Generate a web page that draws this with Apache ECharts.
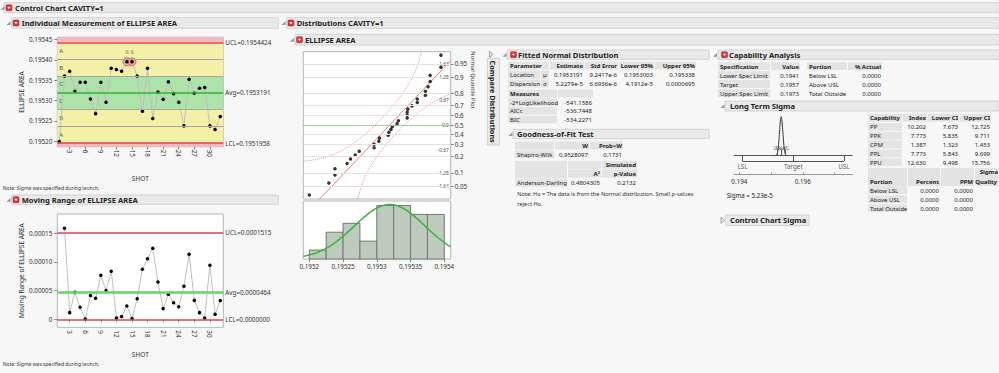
<!DOCTYPE html>
<html><head><meta charset="utf-8">
<script src="https://cdn.jsdelivr.net/npm/echarts@6/dist/echarts.min.js"></script>
<style>html,body{margin:0;padding:0;background:#f7f7f7;}#c{width:999px;height:373px;}</style>
</head><body><div id="c"></div>
<script>
// ---------------- DATA ----------------
const shots = [1,2,3,4,5,6,7,8,9,10,11,12,13,14,15,16,17,18,19,20,21,22,23,24,25,26,27,28,29,30,31,32];
const ellipseArea = [0.195200,0.195360,0.195372,0.195323,0.195345,0.195345,0.195304,0.195268,
  0.195345,0.195296,0.195379,0.195376,0.195372,0.195395,0.195395,0.195360,
  0.195274,0.195379,0.195256,0.195321,0.195303,0.195346,0.195317,0.195296,
  0.195238,0.195352,0.195318,0.195330,0.195332,0.195238,0.195229,0.195261];
const movingRange = [null,0.0001590,0.0000116,0.0000470,0.0000210,0.0000006,0.0000413,0.0000366,
  0.0000767,0.0000500,0.0000837,0.0000023,0.0000047,0.0000233,0.0000012,0.0000360,
  0.0000872,0.0001058,0.0001238,0.0000651,0.0000186,0.0000436,0.0000290,0.0000220,
  0.0000576,0.0001134,0.0000330,0.0000116,0.0000023,0.0000942,0.0000087,0.0000326];
const flaggedShots = [14,15];
const flaggedTests = ['6','6'];
const indivLimits = [0.1951958, 0.1953191, 0.1954424];   // LCL, Avg, UCL
const mrLimits = [0.0000000, 0.0000464, 0.0001515];      // LCL, Avg, UCL
const indivTicks = [0.19520,0.19525,0.19530,0.19535,0.19540,0.19545];
const mrTicks = [0,0.00005,0.00010,0.00015];
const shotTicks = [3,6,9,12,15,18,21,24,27,30];
const histBinEdges = [0.195200,0.195225,0.195250,0.195275,0.195300,0.195325,0.195350,0.195375,0.195400];
const histCounts = [1,3,4,2,6,6,5,5];
const histTicks = [0.1952,0.19525,0.1953,0.19535,0.1954];
const quantileProbs = [0.05,0.1,0.2,0.3,0.4,0.5,0.6,0.7,0.8,0.9,0.95];
const zLabelProbs = [0.05,0.1,0.25,0.5,0.75,0.9,0.95];
const fitMean = 0.1953191;
const fitSigma = 0.000052279;
const lillieforsD = 0.16;
const specLimits = [0.1941, 0.1957, 0.1973];  // LSL, Target, USL
const capTicks = [0.194,0.195,0.196,0.197];
const capLabelTicks = [0.194,0.196];

const fitParamHeader = ['Parameter','','Estimate','Std Error','Lower 95%','Upper 95%'];
const fitParamRows = [['Location','\u03bc','0.1953191','9.2417e-6','0.1953003','0.195338'],
                      ['Dispersion','\u03c3','5.2279e-5','6.6936e-6','4.1912e-5','0.0000695']];
const fitMeasureRows = [['-2*LogLikelihood','-541.1586'],['AICc','-536.7448'],['BIC','-534.2271']];
const swRow = ['Shapiro-Wilk','0.9528097','0.1731'];
const adRow = ['Anderson-Darling','0.4804305','0.2132'];
const specHeader = ['Specification','Value','Portion','% Actual'];
const specRows = [['Lower Spec Limit','0.1941','Below LSL','0.0000'],
                  ['Target','0.1957','Above USL','0.0000'],
                  ['Upper Spec Limit','0.1973','Total Outside','0.0000']];
const capIndexHeader = ['Capability','Index','Lower CI','Upper CI'];
const capIndexRows = [['PP','10.202','7.673','12.725'],['PPK','7.773','5.835','9.711'],
  ['CPM','1.387','1.323','1.453'],['PPL','7.773','5.843','9.699'],['PPU','12.630','9.498','15.756']];
const portionHeader = ['Portion','Percent','PPM','Quality'];
const portionRows = [['Below LSL','0.0000','0.0000'],['Above USL','0.0000','0.0000'],['Total Outside','0.0000','0.0000']];
const sigmaText = 'Sigma = 5.23e-5';

// ---------------- HELPERS ----------------
const FF = '"Noto Sans","DejaVu Sans",sans-serif';
function qnorm(p){
  const a=[-3.969683028665376e+01,2.209460984245205e+02,-2.759285104469687e+02,1.383577518672690e+02,-3.066479806614716e+01,2.506628277459239e+00];
  const b=[-5.447609879822406e+01,1.615858368580409e+02,-1.556989798598866e+02,6.680131188771972e+01,-1.328068155288572e+01];
  const c=[-7.784894002430293e-03,-3.223964580411365e-01,-2.400758277161838e+00,-2.549732539343734e+00,4.374664141464968e+00,2.938163982698783e+00];
  const d=[7.784695709041462e-03,3.224671290700398e-01,2.445134137142996e+00,3.754408661907416e+00];
  const pl=0.02425; let q,r;
  if(p<pl){q=Math.sqrt(-2*Math.log(p));return (((((c[0]*q+c[1])*q+c[2])*q+c[3])*q+c[4])*q+c[5])/((((d[0]*q+d[1])*q+d[2])*q+d[3])*q+1);}
  if(p<=1-pl){q=p-0.5;r=q*q;return (((((a[0]*r+a[1])*r+a[2])*r+a[3])*r+a[4])*r+a[5])*q/(((((b[0]*r+b[1])*r+b[2])*r+b[3])*r+b[4])*r+1);}
  q=Math.sqrt(-2*Math.log(1-p));return -(((((c[0]*q+c[1])*q+c[2])*q+c[3])*q+c[4])*q+c[5])/((((d[0]*q+d[1])*q+d[2])*q+d[3])*q+1);
}
function pnorm(z){
  const t=1/(1+0.2316419*Math.abs(z)); const dd=0.3989423*Math.exp(-z*z/2);
  const p=dd*t*(0.3193815+t*(-0.3565638+t*(1.781478+t*(-1.821256+t*1.330274))));
  return z>0?1-p:p;
}
const G = [];
function txt(x,y,s,o){o=o||{};
  G.push({type:'text',x:x,y:y,silent:true,z:50,rotation:o.rot||0,
    style:{text:s,font:(o.bold?'bold ':'')+(o.size||6)+'px '+FF,fill:o.color||'#222',
    textAlign:o.align||'left',textVerticalAlign:'middle',verticalAlign:'middle'}});
}
function rect(x,y,w,h,fill,stroke){G.push({type:'rect',silent:true,z:40,shape:{x:x,y:y,width:w,height:h},
  style:{fill:fill,stroke:stroke||null,lineWidth:1}});}
function openTri(x,y){G.push({type:'polygon',silent:true,z:45,shape:{points:[[x+4,y-2],[x+4,y+2],[x,y+2]]},style:{fill:'#9a9a9a'}});}
function closedTri(x,y){G.push({type:'polygon',silent:true,z:45,shape:{points:[[x,y-3],[x+3.5,y],[x,y+3]]},style:{fill:'none',stroke:'#888',lineWidth:0.8}});}
function redIcon(x,y){
  G.push({type:'rect',silent:true,z:45,shape:{x:x,y:y-3,width:6,height:6,r:1},style:{fill:'#d8353a',stroke:'#b02020',lineWidth:0.5}});
  G.push({type:'polygon',silent:true,z:46,shape:{points:[[x+1.3,y-1],[x+4.7,y-1],[x+3,y+1.3]]},style:{fill:'#fff'}});
}
function bar(x1,y1,x2,y2,label,triX,iconX,textX,closed){
  rect(x1,y1,x2-x1,y2-y1,'#e9e9e9','#d2d2d2');
  const cy=(y1+y2)/2;
  if(closed) closedTri(triX,cy); else openTri(triX,cy);
  if(iconX!=null) redIcon(iconX,cy);
  txt(textX,cy,label,{bold:true,size:7.6});
}
function table(cols,rows){
  rows.forEach(r=>{
    (r.gray||[]).forEach(ci=>{const c=cols[ci];rect(c[0],r.y-r.h/2,c[1]-c[0]-1,r.h-1,'#e3e3e3');});
    r.cells.forEach((s,ci)=>{ if(!s) return; const c=cols[ci];
      const al=c[2]==='r'?'right':'left'; const x=al==='right'?c[1]-2:c[0]+2;
      txt(x,r.y,s,{bold:r.bold,align:al});});
  });
}

// ---------------- GRAPHICS (chrome & tables) ----------------
bar(4,2.7,999,12.7,'Control Chart CAVITY=1',0.5,6,15);
bar(11.7,17.7,278.3,28.3,'Individual Measurement of ELLIPSE AREA',6.5,13,21.7);
bar(286.7,17.7,999,28.3,'Distributions CAVITY=1',281.5,288,296.7);
bar(295,34.3,999,45,'ELLIPSE AREA',290,296.5,305);
bar(11.7,195,278.3,204.3,'Moving Range of ELLIPSE AREA',6.5,13,21.7);
bar(507,50,709,59.3,'Fitted Normal Distribution',502.5,510.5,518);
bar(718,50,999,59.3,'Capability Analysis',713,721.5,729);
bar(513,129.3,709,138.7,'Goodness-of-Fit Test',508.5,null,517);
bar(725,101,999,111,'Long Term Sigma',720.5,null,730);
bar(725.7,215,809,225.7,'Control Chart Sigma',721,null,730,true);

txt(2.7,187.7,'Note: Sigma was specified during launch.',{size:5,color:'#333'});
txt(2.7,364,'Note: Sigma was specified during launch.',{size:5,color:'#333'});

// Compare Distributions tab
rect(487.3,58.3,12,86.7,'#ececec','#cfcfcf');
closedTri(489.5,54.3);
txt(493.3,101.7,'Compare Distributions',{bold:true,size:7.3,align:'center',rot:-Math.PI/2});
txt(473.3,80,'Normal Quantile Plot',{size:5.8,align:'center',rot:-Math.PI/2,color:'#333'});

// Fitted Normal tables
const cFit=[[508,541,'l'],[541,550,'l'],[550,585,'r'],[585,619,'r'],[619,655,'r'],[655,697,'r']];
table(cFit,[{y:66.2,h:8.8,cells:fitParamHeader,bold:true,gray:[0,1,2,3,4,5]},
  {y:75.2,h:8.8,cells:fitParamRows[0],gray:[0,1]},
  {y:84,h:8.8,cells:fitParamRows[1],gray:[0,1]}]);
const cMeas=[[508,558,'l'],[558,594,'r']];
table(cMeas,[{y:94,h:8.8,cells:['Measures',''],bold:true,gray:[0,1]}].concat(
  fitMeasureRows.map((r,i)=>({y:102.7+i*8.7,h:8.8,cells:r,gray:[0]}))));
const cSW=[[515,555,'l'],[555,590,'r'],[590,624,'r']];
table(cSW,[{y:146,h:8.8,cells:['','W','Prob<W'],bold:true,gray:[0,1,2]},
  {y:154.7,h:8.8,cells:swRow,gray:[0]}]);
const cAD=[[515,568,'l'],[568,602,'r'],[602,638,'r']];
rect(515,161,52,17.4,'#e3e3e3');
table(cAD,[{y:165.3,h:8.8,cells:['','','Simulated'],bold:true,gray:[1,2]},
  {y:174,h:8.8,cells:['','A\u00b2','p-Value'],bold:true,gray:[1,2]},
  {y:183.3,h:8.8,cells:adRow,gray:[0]}]);
txt(517.3,194.3,'Note: Ho = The data is from the Normal distribution. Small p-values',{size:5.6,color:'#333'});
txt(517.3,203.7,'reject Ho.',{size:5.6,color:'#333'});

// Capability tables
const cSpec=[[718,771,'l'],[771,801,'r'],[807,848,'l'],[848,883,'r']];
table(cSpec,[{y:66.7,h:8.8,cells:specHeader,bold:true,gray:[0,1,2,3]}].concat(
  specRows.map((r,i)=>({y:75.5+i*9,h:8.8,cells:r,gray:[0]}))));
const cCap=[[868,903,'l'],[903,928,'r'],[928,960,'r'],[960,992,'r']];
table(cCap,[{y:118.3,h:8.8,cells:capIndexHeader,bold:true,gray:[0,1,2,3]}].concat(
  capIndexRows.map((r,i)=>({y:127.3+i*8.85,h:8.8,cells:r,gray:[0]}))));
const cPor=[[868,908,'l'],[908,941,'r'],[941,975,'r'],[975,999,'r']];
cPor.forEach(c=>rect(c[0],168,c[1]-c[0]-1,18,'#e3e3e3'));
txt(998,172.3,'Sigma',{bold:true,align:'right'});
table(cPor,[{y:181.7,h:8.8,cells:portionHeader,bold:true}].concat(
  portionRows.map((r,i)=>({y:190.7+i*9,h:8.8,cells:r,gray:[0]}))));
txt(726.7,195,sigmaText,{size:6.2,color:'#222'});

// ---------------- CHART ----------------
const n = ellipseArea.length;
const [LCL,AVG,UCL] = indivLimits;
const s1 = (UCL-AVG)/3;
const iyMin=0.195187, iyMax=0.195455;
const xMin=0.615, xMax=32.58;
const qxMin=0.19519111, qxMax=0.19540948;
const qyMin=-1.981, qyMax=1.968;
const cxMin=0.19383, cxMax=0.197575;

const indivData = shots.map((s,i)=>[s,ellipseArea[i]]);
const mrData = shots.map((s,i)=>movingRange[i]==null?null:[s,movingRange[i]]).filter(d=>d);
const flagData = flaggedShots.map((s,i)=>({value:[s,ellipseArea[shots.indexOf(s)]],label:{formatter:flaggedTests[i]}}));

const sorted = ellipseArea.slice().sort((a,b)=>a-b);
const qqData = sorted.map((v,i)=>[v,qnorm((i+1)/(n+1))]);
const probZ = quantileProbs.map(qnorm);
const zLab = zLabelProbs.map(qnorm);
const refLine = [[qxMin,(qxMin-fitMean)/fitSigma],[qxMax,(qxMax-fitMean)/fitSigma]];
const upBand=[], loBand=[];
for(let k=0;k<=240;k++){const x=qxMin+(qxMax-qxMin)*k/240;const F=pnorm((x-fitMean)/fitSigma);
  upBand.push(F+lillieforsD<0.9999?[x,qnorm(F+lillieforsD)]:[x,null]);
  loBand.push(F-lillieforsD>0.0001?[x,qnorm(F-lillieforsD)]:[x,null]);}
const binW = histBinEdges[1]-histBinEdges[0];
const histData = histCounts.map((c,i)=>[histBinEdges[i],histBinEdges[i+1],c]);
const curve=[];
for(let k=0;k<=160;k++){const x=qxMin+(qxMax-qxMin)*k/160;const z=(x-fitMean)/fitSigma;
  curve.push([x,n*binW*Math.exp(-z*z/2)/(fitSigma*Math.sqrt(2*Math.PI))]);}
const capBase=18.6, capLow=13.3, capPeak=39;
const capCurve=[];
for(let k=-40;k<=40;k++){const z=k/10;capCurve.push([fitMean+z*fitSigma,capBase+capPeak*Math.exp(-z*z/2)]);}

const LS = 6.3;
const lblStyle={fontSize:LS,color:'#333',fontFamily:FF};
function markRow(y,label,color,width){return {yAxis:y,lineStyle:{color:color,width:width,type:'solid'},
  label:{show:!!label,formatter:label||'',position:'end',distance:2,fontSize:LS,color:'#333',fontFamily:FF}};}
function zone(y0,y1,color,letter){return [{yAxis:y0,itemStyle:{color:color},
  label:{show:!!letter,formatter:letter||'',position:'insideLeft',distance:2,fontSize:6,color:'#555',fontFamily:FF}},{yAxis:y1}];}
const yellow='#f4f0a7', green='#ade2a8', pink='#f6b7be';

const option = {
  animation:false,
  textStyle:{fontFamily:FF},
  grid:[
    {left:57.3,top:37.3,width:166,height:109.4,show:true,backgroundColor:'#fff',borderColor:'#b5b5b5',borderWidth:1,outerBoundsMode:'none'},
    {left:57.3,top:214,width:166,height:113.3,show:true,backgroundColor:'#fff',borderColor:'#b5b5b5',borderWidth:1,outerBoundsMode:'none'},
    {left:303.3,top:51.7,width:147.4,height:147.3,show:true,backgroundColor:'#fff',borderColor:'#b5b5b5',borderWidth:1,outerBoundsMode:'none'},
    {left:303.3,top:201,width:147.4,height:58,show:true,backgroundColor:'#fff',borderColor:'#b5b5b5',borderWidth:1,outerBoundsMode:'none'},
    {left:734,top:110,width:118.7,height:64.3,show:false,outerBoundsMode:'none'}
  ],
  xAxis:[
    {gridIndex:0,type:'value',min:xMin,max:xMax,axisLine:{show:false},splitLine:{show:false},
     axisTick:{customValues:shotTicks,length:3,lineStyle:{color:'#888'}},
     axisLabel:{customValues:shotTicks,rotate:-90,margin:3,...lblStyle},
     name:'SHOT',nameLocation:'middle',nameGap:28,nameTextStyle:{fontSize:6.5,color:'#333'}},
    {gridIndex:1,type:'value',min:xMin,max:xMax,axisLine:{show:false},splitLine:{show:false},
     axisTick:{customValues:shotTicks,length:3,lineStyle:{color:'#888'}},
     axisLabel:{customValues:shotTicks,rotate:-90,margin:3,...lblStyle},
     name:'SHOT',nameLocation:'middle',nameGap:24,nameTextStyle:{fontSize:6.5,color:'#333'}},
    {gridIndex:2,type:'value',min:qxMin,max:qxMax,show:false},
    {gridIndex:3,type:'value',min:qxMin,max:qxMax,axisLine:{show:false},splitLine:{show:false},
     axisTick:{customValues:histTicks,length:3,lineStyle:{color:'#888'}},
     axisLabel:{customValues:histTicks,margin:4,formatter:v=>String(+v.toFixed(5)),...lblStyle}},
    {gridIndex:4,type:'value',min:cxMin,max:cxMax,splitLine:{show:false},
     axisLine:{show:true,lineStyle:{color:'#999'}},
     axisTick:{customValues:capTicks,length:2,inside:true,lineStyle:{color:'#999'}},
     axisLabel:{customValues:capLabelTicks,margin:4,formatter:v=>v.toFixed(3),...lblStyle}}
  ],
  yAxis:[
    {gridIndex:0,type:'value',min:iyMin,max:iyMax,axisLine:{show:false},splitLine:{show:false},
     axisTick:{customValues:indivTicks,length:3,lineStyle:{color:'#888'}},
     axisLabel:{customValues:indivTicks,margin:5,formatter:v=>v.toFixed(5),...lblStyle},
     name:'ELLIPSE AREA',nameLocation:'middle',nameGap:31,nameTextStyle:{fontSize:6.5,color:'#333'}},
    {gridIndex:1,type:'value',min:-0.000014,max:0.0001837,axisLine:{show:false},splitLine:{show:false},
     axisTick:{customValues:mrTicks,length:3,lineStyle:{color:'#888'}},
     axisLabel:{customValues:mrTicks,margin:5,formatter:v=>v===0?'0':v.toFixed(5),...lblStyle},
     name:'Moving Range of ELLIPSE AREA',nameLocation:'middle',nameGap:32,nameTextStyle:{fontSize:6.5,color:'#333'}},
    {gridIndex:2,type:'value',position:'right',min:qyMin,max:qyMax,axisLine:{show:false},splitLine:{show:false},
     axisTick:{customValues:probZ,length:3,lineStyle:{color:'#888'}},
     axisLabel:{customValues:probZ,margin:4,formatter:v=>{let best=0;probZ.forEach((z,i)=>{if(Math.abs(z-v)<Math.abs(probZ[best]-v))best=i;});return String(quantileProbs[best]);},...lblStyle}},
    {gridIndex:2,type:'value',position:'right',min:qyMin,max:qyMax,axisLine:{show:false},splitLine:{show:false},
     axisTick:{show:false},
     axisLabel:{customValues:zLab,inside:true,margin:2,fontSize:4.8,color:'#444',fontFamily:FF,
       formatter:v=>Math.abs(v)<1e-9?'0.0':v.toFixed(2)}},
    {gridIndex:3,type:'value',min:0,max:6.5,show:false},
    {gridIndex:4,type:'value',min:0,max:64.3,show:false}
  ],
  series:[
    // individual chart zones
    {type:'line',xAxisIndex:0,yAxisIndex:0,data:[],z:1,silent:true,
     markArea:{silent:true,data:[
       zone(iyMin,LCL,pink),zone(LCL,AVG-2*s1,yellow,'A'),zone(AVG-2*s1,AVG-s1,yellow,'B'),zone(AVG-s1,AVG,green,'C'),
       zone(AVG,AVG+s1,green,'C'),zone(AVG+s1,AVG+2*s1,yellow,'B'),zone(AVG+2*s1,UCL,yellow,'A'),zone(UCL,iyMax,pink)]}},
    {type:'line',xAxisIndex:0,yAxisIndex:0,data:[],z:2,silent:true,
     markLine:{silent:true,precision:10,symbol:['none','none'],data:[
       markRow(AVG-2*s1,null,'#a6a6a6',1),markRow(AVG-s1,null,'#a6a6a6',1),markRow(AVG+s1,null,'#a6a6a6',1),markRow(AVG+2*s1,null,'#a6a6a6',1),
       markRow(UCL,'UCL='+UCL.toFixed(7),'#e8404f',1.5),markRow(AVG,'Avg='+AVG.toFixed(7),'#2eb52e',1.5),markRow(LCL,'LCL='+LCL.toFixed(7),'#e8404f',1.5)]}},
    {type:'scatter',xAxisIndex:0,yAxisIndex:0,data:flagData,z:3,symbolSize:8,silent:true,
     itemStyle:{color:'#f39a9f',borderColor:'#e0404a',borderWidth:1},
     label:{show:true,position:[3,-8],fontSize:6,color:'#555',fontFamily:FF}},
    {type:'line',xAxisIndex:0,yAxisIndex:0,data:indivData,z:4,silent:true,symbol:'circle',symbolSize:3.5,
     lineStyle:{color:'#bfbfbf',width:1},itemStyle:{color:'#000'}},
    // moving range
    {type:'line',xAxisIndex:1,yAxisIndex:1,data:[],z:2,silent:true,
     markLine:{silent:true,precision:10,symbol:['none','none'],data:[
       markRow(mrLimits[2],'UCL='+mrLimits[2].toFixed(7),'#ee6d7a',2),
       markRow(mrLimits[1],'Avg='+mrLimits[1].toFixed(7),'#6ad26a',2.5),
       markRow(mrLimits[0],'LCL='+mrLimits[0].toFixed(7),'#e8404f',1.5)]}},
    {type:'line',xAxisIndex:1,yAxisIndex:1,data:mrData,z:4,silent:true,symbol:'circle',symbolSize:3.5,
     lineStyle:{color:'#bfbfbf',width:1},itemStyle:{color:'#000'}},
    // quantile plot
    {type:'line',xAxisIndex:2,yAxisIndex:2,data:[],z:1,silent:true,
     markLine:{silent:true,precision:10,symbol:['none','none'],label:{show:false},
       data:probZ.map(z=>({yAxis:z,lineStyle:{color:'#e2e2e2',width:1,type:'solid'}})).concat(
         [{yAxis:0,lineStyle:{color:'#55c055',width:1,type:'dotted'}}])}},
    {type:'line',xAxisIndex:2,yAxisIndex:2,data:refLine,z:3,silent:true,symbol:'none',clip:true,
     lineStyle:{color:'#f27a7a',width:1}},
    {type:'line',xAxisIndex:2,yAxisIndex:2,data:upBand,z:3,silent:true,symbol:'none',clip:true,connectNulls:false,
     lineStyle:{color:'#f08a8a',width:1,type:'dotted'}},
    {type:'line',xAxisIndex:2,yAxisIndex:2,data:loBand,z:3,silent:true,symbol:'none',clip:true,connectNulls:false,
     lineStyle:{color:'#f08a8a',width:1,type:'dotted'}},
    {type:'scatter',xAxisIndex:2,yAxisIndex:2,data:qqData,z:4,silent:true,symbolSize:3.5,itemStyle:{color:'#000'}},
    // histogram
    {type:'custom',xAxisIndex:3,yAxisIndex:4,data:histData,z:2,silent:true,encode:{x:[0,1],y:2},
     renderItem:(p,api)=>{const a=api.coord([api.value(0),api.value(2)]);const b=api.coord([api.value(1),0]);
       return {type:'rect',shape:{x:a[0],y:a[1],width:b[0]-a[0],height:b[1]-a[1]},style:{fill:'#bccbbb',stroke:'#767676',lineWidth:1}};}},
    {type:'line',xAxisIndex:3,yAxisIndex:4,data:curve,z:3,silent:true,symbol:'none',
     lineStyle:{color:'#3bb33b',width:1.5}},
    // capability mini plot
    {type:'line',xAxisIndex:4,yAxisIndex:5,data:[],z:2,silent:true,
     markLine:{silent:true,precision:10,symbol:['none','none'],label:{show:false},lineStyle:{color:'#555',width:1,type:'solid'},
       data:[
         [{coord:[cxMin,capBase]},{coord:[cxMax,capBase]}],
         [{coord:[specLimits[0],capBase]},{coord:[specLimits[0],capLow]}],
         [{coord:[specLimits[1],capBase]},{coord:[specLimits[1],capLow]}],
         [{coord:[specLimits[2],capBase]},{coord:[specLimits[2],capLow]}],
         [{coord:[specLimits[0],capLow]},{coord:[specLimits[2],capLow]}],
         [{coord:[indivLimits[0],capBase]},{coord:[indivLimits[0],capBase+6]}],
         [{coord:[indivLimits[1],capBase]},{coord:[indivLimits[1],capBase+6]}],
         [{coord:[indivLimits[2],capBase]},{coord:[indivLimits[2],capBase+6]}]]}},
    {type:'scatter',xAxisIndex:4,yAxisIndex:5,z:3,silent:true,symbolSize:0,
     data:[[specLimits[0],capLow,'LSL'],[specLimits[1],capLow,'Target'],[specLimits[2],capLow,'USL']],
     label:{show:true,position:'bottom',distance:2,formatter:p=>p.value[2],...lblStyle}},
    {type:'scatter',xAxisIndex:4,yAxisIndex:5,z:3,silent:true,symbolSize:0,
     data:[[indivLimits[0],capBase+8,'LCL'],[indivLimits[1],capBase+8,'Mean'],[indivLimits[2],capBase+8,'UCL']],
     label:{show:true,position:'inside',formatter:p=>p.value[2],fontSize:4.5,color:'#555',fontFamily:FF}},
    {type:'line',xAxisIndex:4,yAxisIndex:5,data:capCurve,z:4,silent:true,symbol:'none',
     lineStyle:{color:'#333',width:1}}
  ],
  graphic:{elements:G}
};
const chart = echarts.init(document.getElementById('c'),null,{renderer:'svg',width:999,height:373});
chart.setOption(option);
</script></body></html>
